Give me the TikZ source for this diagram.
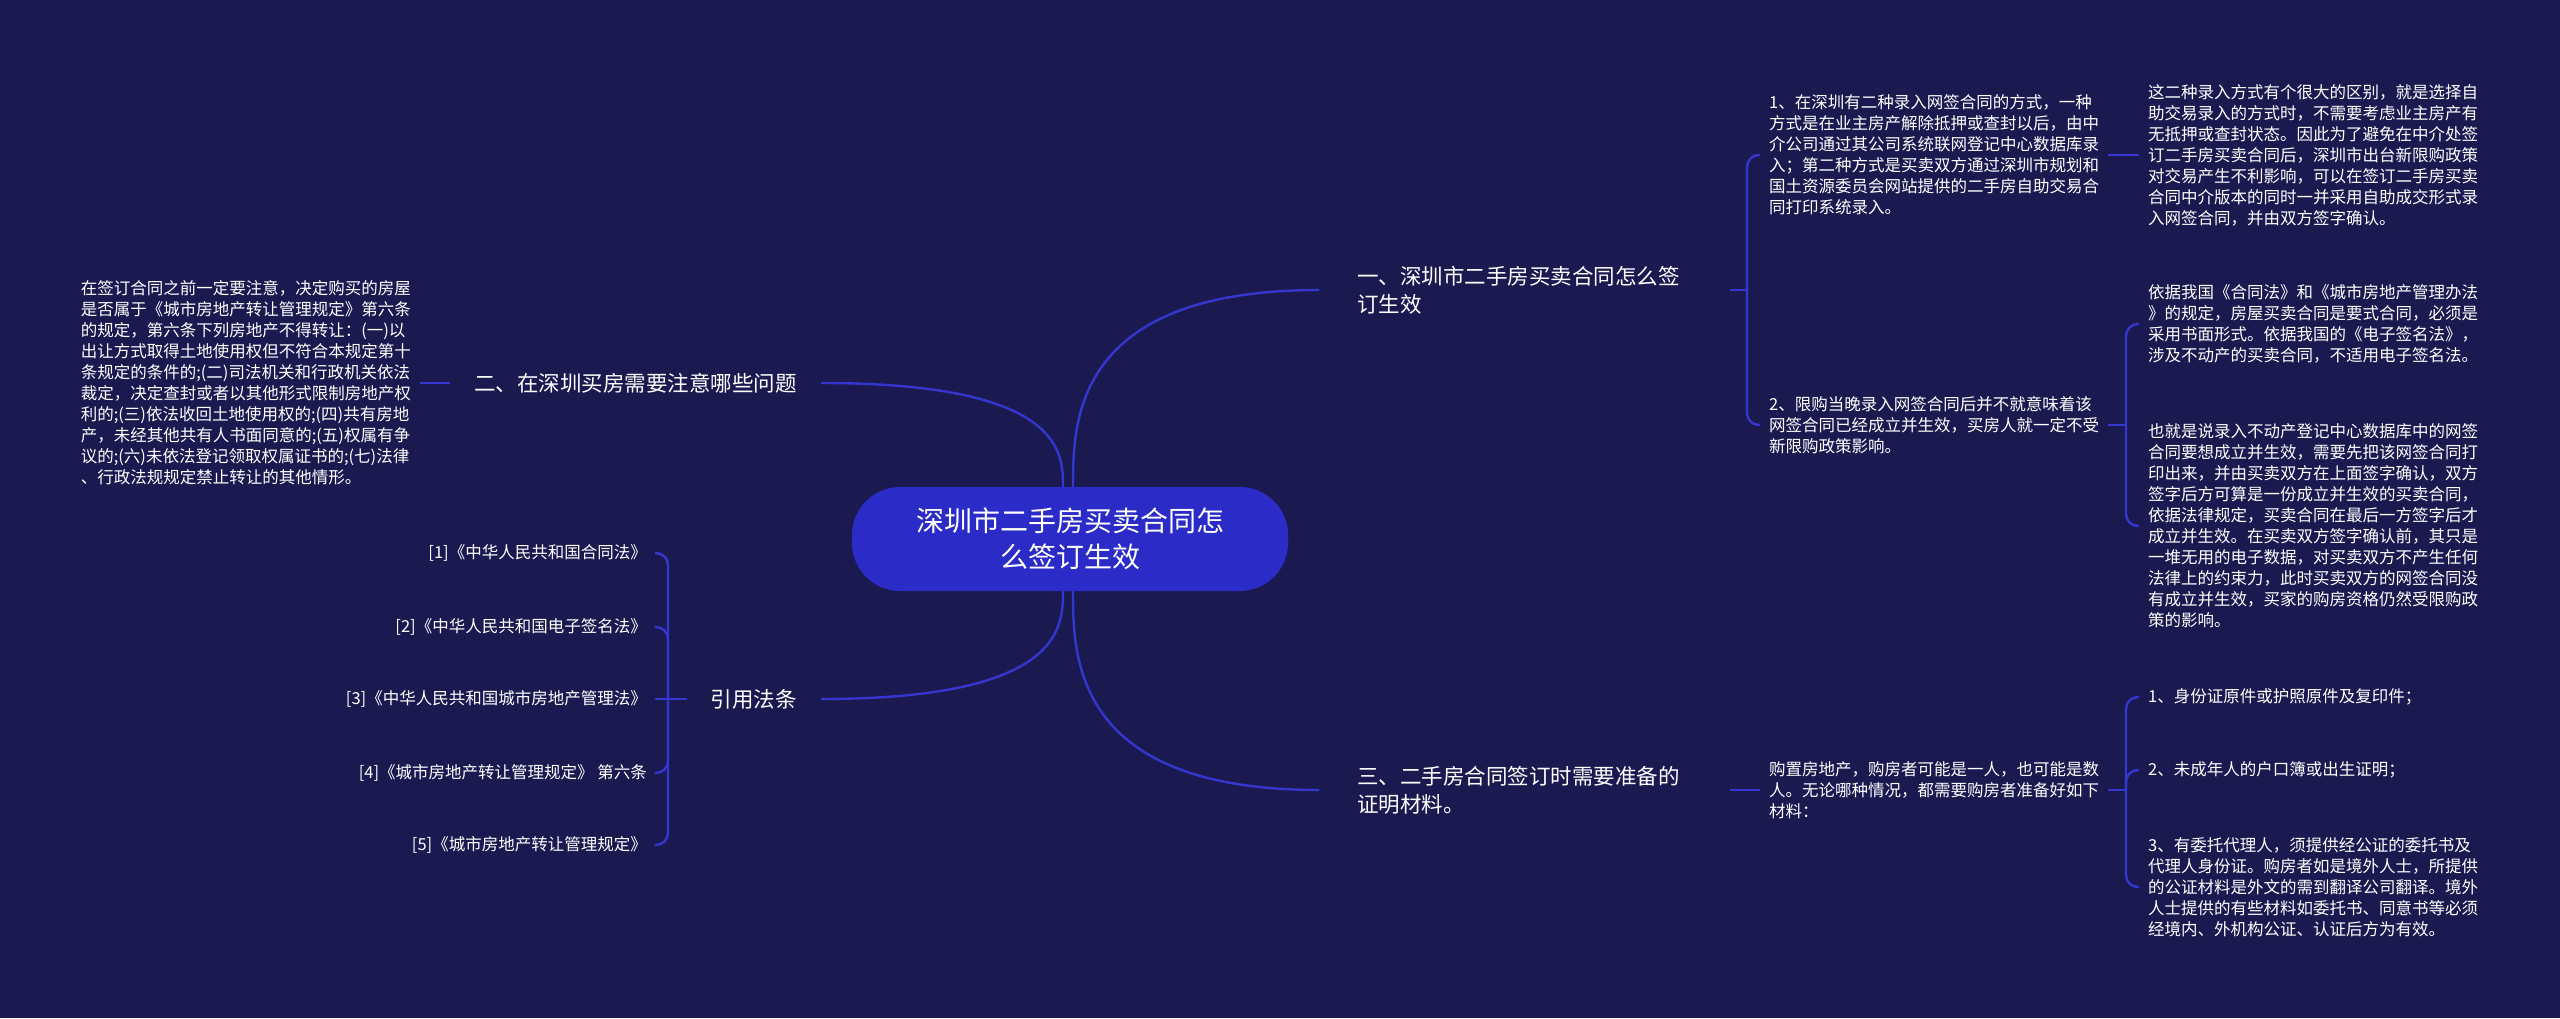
\documentclass[tikz,border=0pt]{standalone}
\usepackage{fontspec}
\newfontfamily\cjk{Noto Sans CJK SC}
\usepackage{tikz}
\usetikzlibrary{calc}

\definecolor{navybg}{HTML}{1B1A50}
\definecolor{linkblue}{HTML}{3535CF}
\definecolor{topicblue}{HTML}{2B2BC8}

\begin{document}
\begin{tikzpicture}[
    x=1pt, y=-1pt,
    font=\cjk,
    % Core Shapes
    topic/.style={rectangle, fill=topicblue, text=white, minimum width=436pt, minimum height=104pt, rounded corners=48pt, align=center, font=\cjk\fontsize{28}{36}\selectfont},
    rsec/.style={anchor=west, inner xsep=38pt, inner ysep=0pt, text width=335pt, align=left, text=white, font=\cjk\fontsize{21.5}{28}\selectfont},
    lsec/.style={anchor=east, inner xsep=24pt, inner ysep=0pt, align=right, text=white, font=\cjk\fontsize{21.5}{28}\selectfont},
    leaf/.style={anchor=west, inner xsep=9pt, inner ysep=0pt, align=left, text=white, font=\cjk\fontsize{16.5}{21}\selectfont},
    lawref/.style={leaf, anchor=east, inner xsep=8pt},
    % Connectors
    link/.style={line width=2.4pt, draw=linkblue},
    branch/.style={link, rounded corners=12pt},
]

\useasboundingbox (0,0) rectangle (2560,1018);
\fill[navybg] (0,0) rectangle (2560,1018);

% 1. Central topic
\node[topic] (root) at (1070,539) {深圳市二手房买卖合同怎\\么签订生效};
\coordinate (topR) at ([xshift=3pt]root.north);
\coordinate (botR) at ([xshift=3pt]root.south);
\coordinate (topL) at ([xshift=-7pt]root.north);
\coordinate (botL) at ([xshift=-7pt]root.south);

% 2. Main branches
\node[rsec] (sec1) at (1319,290) {一、深圳市二手房买卖合同怎么签\\订生效};
\node[rsec] (sec3) at (1319,790) {三、二手房合同签订时需要准备的\\证明材料。};
\node[lsec] (sec2) at (821,383) {二、在深圳买房需要注意哪些问题};
\node[lsec] (sec4) at (821,699) {引用法条};

% 3. Right side leaves
\node[leaf] (l11) at (1760,155) {1、在深圳有二种录入网签合同的方式，一种\\方式是在业主房产解除抵押或查封以后，由中\\介公司通过其公司系统联网登记中心数据库录\\入；第二种方式是买卖双方通过深圳市规划和\\国土资源委员会网站提供的二手房自助交易合\\同打印系统录入。};
\node[leaf] (c111) at (2139,155) {这二种录入方式有个很大的区别，就是选择自\\助交易录入的方式时，不需要考虑业主房产有\\无抵押或查封状态。因此为了避免在中介处签\\订二手房买卖合同后，深圳市出台新限购政策\\对交易产生不利影响，可以在签订二手房买卖\\合同中介版本的同时一并采用自助成交形式录\\入网签合同，并由双方签字确认。};
\node[leaf] (l12) at (1760,425) {2、限购当晚录入网签合同后并不就意味着该\\网签合同已经成立并生效，买房人就一定不受\\新限购政策影响。};
\node[leaf] (c121) at (2139,324) {依据我国《合同法》和《城市房地产管理办法\\》的规定，房屋买卖合同是要式合同，必须是\\采用书面形式。依据我国的《电子签名法》，\\涉及不动产的买卖合同，不适用电子签名法。};
\node[leaf] (c122) at (2139,526) {也就是说录入不动产登记中心数据库中的网签\\合同要想成立并生效，需要先把该网签合同打\\印出来，并由买卖双方在上面签字确认，双方\\签字后方可算是一份成立并生效的买卖合同，\\依据法律规定，买卖合同在最后一方签字后才\\成立并生效。在买卖双方签字确认前，其只是\\一堆无用的电子数据，对买卖双方不产生任何\\法律上的约束力，此时买卖双方的网签合同没\\有成立并生效，买家的购房资格仍然受限购政\\策的影响。};

\node[leaf] (l31) at (1760,790) {购置房地产，购房者可能是一人，也可能是数\\人。无论哪种情况，都需要购房者准备好如下\\材料：};
\node[leaf] (c311) at (2139,697) {1、身份证原件或护照原件及复印件；};
\node[leaf] (c312) at (2139,770) {2、未成年人的户口簿或出生证明；};
\node[leaf] (c313) at (2139,887) {3、有委托代理人，须提供经公证的委托书及\\代理人身份证。购房者如是境外人士，所提供\\的公证材料是外文的需到翻译公司翻译。境外\\人士提供的有些材料如委托书、同意书等必须\\经境内、外机构公证、认证后方为有效。};

% 4. Left side leaves
\node[leaf, anchor=east] (l21) at (420,383) {在签订合同之前一定要注意，决定购买的房屋\\是否属于《城市房地产转让管理规定》第六条\\的规定，第六条下列房地产不得转让：(一)以\\出让方式取得土地使用权但不符合本规定第十\\条规定的条件的;(二)司法机关和行政机关依法\\裁定，决定查封或者以其他形式限制房地产权\\利的;(三)依法收回土地使用权的;(四)共有房地\\产，未经其他共有人书面同意的;(五)权属有争\\议的;(六)未依法登记领取权属证书的;(七)法律\\、行政法规规定禁止转让的其他情形。};

\node[lawref] (ref1) at (655,553) {[1]《中华人民共和国合同法》};
\node[lawref] (ref2) at (655,627) {[2]《中华人民共和国电子签名法》};
\node[lawref] (ref3) at (655,699) {[3]《中华人民共和国城市房地产管理法》};
\node[lawref] (ref4) at (655,773) {[4]《城市房地产转让管理规定》 第六条};
\node[lawref] (ref5) at (655,845) {[5]《城市房地产转让管理规定》};

% Junctions
\coordinate (j1) at (1747,290);
\coordinate (j12) at (2126,425);
\coordinate (j3) at (2126,790);
\coordinate (jr) at (668,699);

% Connections
% Topic to branches
\draw[link] (topR) .. controls ($(topR)!0.33!(topR|-sec1.west)$) and (topR|-sec1.west) .. (sec1.west);
\draw[link] (botR) .. controls ($(botR)!0.33!(botR|-sec3.west)$) and (botR|-sec3.west) .. (sec3.west);
\draw[link] (topL) .. controls ($(topL)!0.33!(topL|-sec2.east)$) and (topL|-sec2.east) .. (sec2.east);
\draw[link] (botL) .. controls ($(botL)!0.33!(botL|-sec4.east)$) and (botL|-sec4.east) .. (sec4.east);

% Branch one
\draw[link] (sec1.east) -- (j1);
\draw[branch] (j1) |- (l11.west);
\draw[branch] (j1) |- (l12.west);
\draw[link] (l11.east) -- (c111.west);
\draw[link] (l12.east) -- (j12);
\draw[branch] (j12) |- (c121.west);
\draw[branch] (j12) |- (c122.west);

% Branch three
\draw[link] (sec3.east) -- (l31.west);
\draw[link] (l31.east) -- (j3);
\draw[branch] (j3) |- (c311.west);
\draw[branch] (j3) |- (c312.west);
\draw[branch] (j3) |- (c313.west);

% Left branches
\draw[link] (sec2.west) -- (l21.east);
\draw[link] (sec4.west) -- (jr);
\draw[branch] (jr) |- (ref1.east);
\draw[branch] (jr) |- (ref2.east);
\draw[branch] (jr) -- (ref3.east);
\draw[branch] (jr) |- (ref4.east);
\draw[branch] (jr) |- (ref5.east);

\end{tikzpicture}
\end{document}
